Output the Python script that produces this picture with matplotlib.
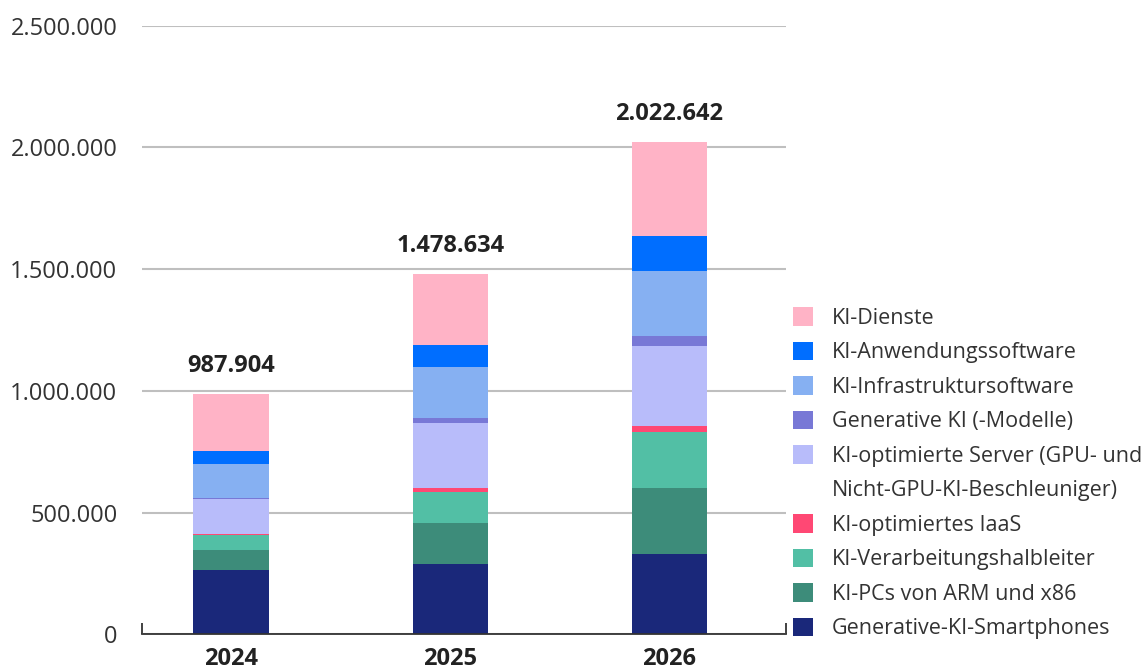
import matplotlib.pyplot as plt
from matplotlib.patches import Patch
from matplotlib.ticker import FuncFormatter

plt.rcParams['font.family'] = ['Open Sans', 'DejaVu Sans']

years = ['2024', '2025', '2026']
totals = [987904, 1478634, 2022642]

# segments from bottom to top
smartphones = [263000, 287000, 329000]
pcs = [84000, 172000, 271000]
halbleiter = [59000, 127000, 231000]
iaas = [7000, 15000, 26000]
server = [141000, 267000, 329000]
gen_ki = [7000, 19000, 38000]
infra_sw = [139000, 210000, 268000]
anwendung_sw = [52000, 90000, 145000]
dienste = [236000, 292000, 386000]

series = [
    ('Generative-KI-Smartphones', smartphones, '#1A287A'),
    ('KI-PCs von ARM und x86', pcs, '#3D8C7A'),
    ('KI-Verarbeitungshalbleiter', halbleiter, '#52BFA5'),
    ('KI-optimiertes IaaS', iaas, '#FF4874'),
    ('KI-optimierte Server (GPU- und', server, '#B8BCFA'),
    ('Generative KI (-Modelle)', gen_ki, '#7878D6'),
    ('KI-Infrastruktursoftware', infra_sw, '#86B0F2'),
    ('KI-Anwendungssoftware', anwendung_sw, '#006EFF'),
    ('KI-Dienste', dienste, '#FFB3C6'),
]

fig = plt.figure(figsize=(11.48, 6.7), dpi=100)
ax = fig.add_axes([0.124, 0.0533, 0.5604, 0.9083])

x = list(range(len(years)))
bottom = [0] * len(years)
handles = []
for name, vals, col in series:
    ax.bar(x, vals, 0.345, bottom=bottom, color=col, zorder=3)
    bottom = [b + v for b, v in zip(bottom, vals)]
    handles.append((name, col))

for xi, t, b in zip(x, totals, bottom):
    ax.annotate(f'{t:,}'.replace(',', '.'), (xi, b), xytext=(0, 20),
                textcoords='offset points', ha='center', va='center',
                fontsize=17, fontweight='bold', color='#222222')

ax.set_xlim(-0.405, 2.53)
ax.set_ylim(0, 2500000)
ax.set_yticks(range(0, 2500001, 500000))
ax.yaxis.set_major_formatter(FuncFormatter(lambda v, p: f'{int(v):,}'.replace(',', '.')))
ax.grid(axis='y', color='#BFBFBF', linewidth=1.5, zorder=0)
ax.tick_params(axis='y', length=0, pad=18, labelsize=17, labelcolor='#333333')
ax.set_xticks(x)
ax.set_xticklabels(years, fontsize=17, fontweight='bold', color='#222222')
ax.tick_params(axis='x', length=0, pad=9)
ax.set_xticks([-0.405, 2.53], minor=True)
ax.tick_params(axis='x', which='minor', direction='in', length=8, width=1.3, color='#333333')
for s in ['top', 'right', 'left']:
    ax.spines[s].set_visible(False)
ax.spines['bottom'].set_color('#333333')
ax.spines['bottom'].set_linewidth(1.3)
ax.spines['bottom'].set_zorder(4)

leg_handles = []
leg_labels = []
for name, col in handles[::-1]:
    leg_handles.append(Patch(facecolor=col))
    leg_labels.append(name)
    if name.startswith('KI-optimierte Server'):
        leg_handles.append(Patch(facecolor='none', edgecolor='none'))
        leg_labels.append('Nicht-GPU-KI-Beschleuniger)')

fig.legend(leg_handles, leg_labels, loc='center left', bbox_to_anchor=(0.6908, 0.2935),
           frameon=False, fontsize=15.5, handlelength=0.93, handleheight=0.93,
           handletextpad=0.88, labelspacing=0.6, borderpad=0, borderaxespad=0,
           labelcolor='#333333')

fig.savefig('out.png', dpi=100)
